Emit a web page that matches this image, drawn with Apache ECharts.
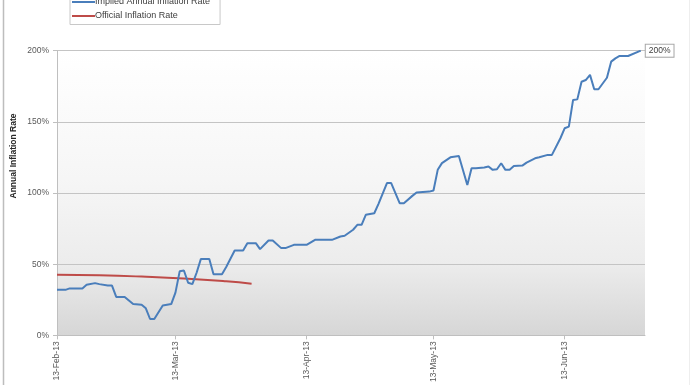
<!DOCTYPE html>
<html>
<head>
<meta charset="utf-8">
<script src="https://cdn.jsdelivr.net/npm/echarts@6/dist/echarts.min.js"></script>
<style>
html,body{margin:0;padding:0;background:#fff;}
#chart{width:690px;height:385px;}
</style>
</head>
<body>
<div id="chart"></div>
<script>
// Implied annual inflation rate (blue)
const impliedDates = ['2013-02-13','2013-02-15','2013-02-16','2013-02-19','2013-02-20','2013-02-22','2013-02-23','2013-02-25','2013-02-26','2013-02-27',
  '2013-03-01','2013-03-03','2013-03-05','2013-03-06','2013-03-07','2013-03-08','2013-03-10','2013-03-12','2013-03-13','2013-03-14',
  '2013-03-15','2013-03-16','2013-03-17','2013-03-18','2013-03-19','2013-03-21','2013-03-22','2013-03-24','2013-03-25','2013-03-27',
  '2013-03-29','2013-03-30','2013-04-01','2013-04-02','2013-04-04','2013-04-05','2013-04-07','2013-04-08','2013-04-10','2013-04-13',
  '2013-04-15','2013-04-19','2013-04-21','2013-04-22','2013-04-24','2013-04-25','2013-04-26','2013-04-27','2013-04-29','2013-04-30',
  '2013-05-02','2013-05-03','2013-05-05','2013-05-06','2013-05-08','2013-05-09','2013-05-12','2013-05-13','2013-05-14','2013-05-15',
  '2013-05-17','2013-05-19','2013-05-21','2013-05-22','2013-05-23','2013-05-25','2013-05-26','2013-05-27','2013-05-28','2013-05-29',
  '2013-05-30','2013-05-31','2013-06-01','2013-06-03','2013-06-04','2013-06-06','2013-06-07','2013-06-09','2013-06-10','2013-06-12',
  '2013-06-13','2013-06-14','2013-06-15','2013-06-16','2013-06-17','2013-06-18','2013-06-19','2013-06-20','2013-06-21','2013-06-23',
  '2013-06-24','2013-06-25','2013-06-26','2013-06-28','2013-07-01'];
const impliedValues = [32,32,33,33,35.5,36.7,36,35,35,27,
  27,22,21.5,19,11.5,11.5,21,22,30,45,
  45.6,37,36,44,53.6,53.6,43,43,48,59.6,
  59.6,64.8,64.8,60.6,66.7,66.7,61.3,61.3,63.6,63.6,
  67.1,67.1,69.5,70,74.2,77.7,77.7,84.7,85.8,92.4,
  107,107,92.9,92.9,98,100.4,101,101.8,116.3,121,
  125.1,126,105.7,117.4,117.4,117.9,118.6,116.3,116.7,120.9,
  116.3,116.3,119,119.3,121.4,124.4,125.1,126.8,126.8,138.5,
  145.5,146.7,165.4,165.8,178.2,179.4,183,172.9,172.9,181,
  192.3,194.6,196.3,196.3,200];

// Official inflation rate (red)
const officialDates = ['2013-02-13','2013-02-23','2013-03-05','2013-03-15','2013-03-25','2013-03-31'];
const officialValues = [42.6,42.2,41.3,40.0,38.0,36.3];

// Axis ticks
const xTickDates = ['2013-02-13','2013-03-13','2013-04-13','2013-05-13','2013-06-13'];
const xTickLabels = ['13-Feb-13','13-Mar-13','13-Apr-13','13-May-13','13-Jun-13'];
const yTicks = [0,50,100,150,200];
const seriesNames = ['Implied Annual Inflation Rate','Official Inflation Rate'];
const yTitle = 'Annual Inflation Rate';
const endLabelText = '200%';

const toTs = s => Date.UTC(+s.slice(0,4), +s.slice(5,7)-1, +s.slice(8,10));
const tickTs = xTickDates.map(toTs);

const chart = echarts.init(document.getElementById('chart'), null, {renderer:'canvas'});
const font = 'Liberation Sans';
chart.setOption({
  animation:false,
  backgroundColor:'#ffffff',
  textStyle:{fontFamily:font},
  graphic:[{
    type:'rect', left:1, top:-5, shape:{width:687, height:395},
    style:{fill:'none', stroke:'#bdbdbd', lineWidth:1.5}, z:-1, silent:true
  },{
    type:'text', x:14, y:156, rotation:Math.PI/2,
    style:{text:yTitle, fill:'#262626', font:'bold 8.5px "Liberation Sans"', align:'center', verticalAlign:'middle'},
    silent:true
  }],
  legend:{
    left:70, top:-8.5, orient:'vertical', itemGap:5,
    itemWidth:23, itemHeight:2, padding:[6,10,4,2], align:'left',
    borderColor:'#c8c8c8', borderWidth:1, backgroundColor:'#ffffff',
    textStyle:{fontSize:9, color:'#404040', fontFamily:font, padding:[0,0,0,-5]},
    data:[{name:seriesNames[0], icon:'rect'},{name:seriesNames[1], icon:'rect'}]
  },
  grid:{
    left:57, right:45, top:50.7, bottom:49.3, show:true, borderWidth:0,
    backgroundColor:{type:'linear', x:0, y:0, x2:0, y2:1, colorStops:[
      {offset:0, color:'#ffffff'},{offset:0.45, color:'#f6f6f6'},
      {offset:0.75, color:'#ececec'},{offset:1, color:'#d6d6d6'}]}
  },
  xAxis:{
    type:'value', min:toTs('2013-02-13'), max:toTs('2013-07-02'),
    axisLine:{show:true, onZero:false, lineStyle:{color:'#bfbfbf', width:1}},
    axisTick:{show:true, length:4, customValues:tickTs, lineStyle:{color:'#bfbfbf'}},
    splitLine:{show:false},
    axisLabel:{
      customValues:tickTs, rotate:90, fontSize:8.5, color:'#595959', margin:6,
      formatter:function(v){ const i = tickTs.indexOf(v); return i >= 0 ? xTickLabels[i] : ''; }
    }
  },
  yAxis:{
    type:'value', min:yTicks[0], max:yTicks[yTicks.length-1], interval:50,
    axisLine:{show:true, lineStyle:{color:'#bfbfbf'}},
    axisTick:{show:true, length:4, lineStyle:{color:'#bfbfbf'}},
    splitLine:{show:true, lineStyle:{color:'#c4c4c4', width:1}},
    axisLabel:{fontSize:8.5, color:'#595959', margin:8, formatter:v => v + '%'}
  },
  series:[{
    name:seriesNames[0], type:'line', showSymbol:false, symbol:'none',
    data:impliedDates.map((d,i)=>[toTs(d), impliedValues[i]]),
    lineStyle:{color:'#4a7ebb', width:2}, itemStyle:{color:'#4a7ebb'},
    endLabel:{show:true, formatter:endLabelText, fontSize:8.5, color:'#404040',
      borderColor:'#a6a6a6', borderWidth:1, backgroundColor:'#fff', padding:[2,3,1,3], distance:5},
    z:3
  },{
    name:seriesNames[1], type:'line', showSymbol:false, symbol:'none', smooth:true,
    data:officialDates.map((d,i)=>[toTs(d), officialValues[i]]),
    lineStyle:{color:'#be4b48', width:2}, itemStyle:{color:'#be4b48'}, z:2
  }]
});
</script>
</body>
</html>
